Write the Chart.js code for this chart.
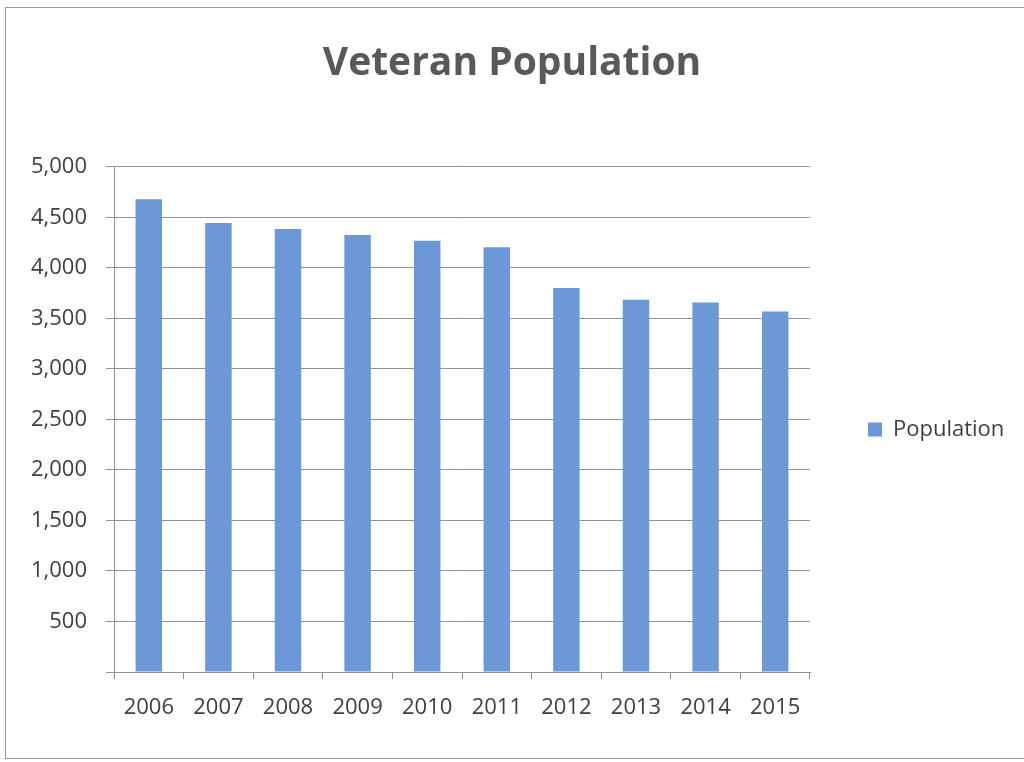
<!DOCTYPE html>
<html>
<head>
<meta charset="utf-8">
<script src="https://cdn.jsdelivr.net/npm/chart.js@4.4.1/dist/chart.umd.min.js"></script>
<style>
  html, body { margin: 0; padding: 0; background: #ffffff; overflow: hidden; }
  #wrap { position: relative; width: 1024px; height: 762px; overflow: hidden; }
  #frame { position: absolute; left: 5px; top: 7px; width: 1100px; height: 752px;
           border: 1px solid #9a9a9a; border-right: none; box-sizing: border-box; }
  canvas { position: absolute; left: 0; top: 0; }
</style>
</head>
<body>
<div id="wrap">
  <div id="frame"></div>
  <canvas id="c" width="1024" height="762"></canvas>
</div>
<script>
const titleText = "Veteran Population";
const seriesLabel = "Population";
const categories = ["2006", "2007", "2008", "2009", "2010", "2011", "2012", "2013", "2014", "2015"];
const populationValues = [4680, 4445, 4385, 4325, 4268, 4205, 3800, 3685, 3658, 3568];
const yTickMin = 0;
const yTickMax = 5000;
const yTickStep = 500;

const barColor = "#6d98d8";
const gridColor = "#939393";
const textColor = "#404040";

const legendShift = {
  id: "legendShift",
  beforeLayout(chart) {
    const lg = chart.legend;
    if (lg && !lg._wrapped) {
      const fit = lg.fit;
      lg.fit = function () { fit.call(this); this.width = 214; };
      lg._wrapped = true;
    }
  },
  afterLayout(chart) {
    const lg = chart.legend;
    if (lg) {
      lg.left += 48; lg.right += 48;
      lg.top += 10; lg.bottom += 10;
    }
  }
};

new Chart(document.getElementById("c"), {
  type: "bar",
  data: {
    labels: categories,
    datasets: [{
      label: seriesLabel,
      data: populationValues,
      backgroundColor: barColor,
      borderWidth: 0,
      categoryPercentage: 1.0,
      barPercentage: 0.38
    }]
  },
  options: {
    responsive: false,
    animation: false,
    devicePixelRatio: 1,
    layout: { padding: { top: 8, left: 0, right: 0, bottom: 0 } },
    plugins: {
      title: {
        display: true,
        text: titleText,
        color: "#595959",
        font: { family: "'Open Sans', sans-serif", size: 39, weight: "bold" },
        padding: { top: 32, bottom: 80 }
      },
      legend: {
        display: true,
        position: "right",
        fullSize: false,
        labels: {
          color: textColor,
          font: { family: "'Open Sans', sans-serif", size: 22 },
          boxWidth: 14,
          boxHeight: 14,
          padding: 10
        }
      },
      tooltip: { enabled: false }
    },
    scales: {
      x: {
        offset: true,
        grid: { display: true, drawOnChartArea: false, drawTicks: true, tickLength: 7, color: gridColor, offset: true },
        border: { display: true, color: gridColor, width: 1 },
        ticks: {
          color: textColor,
          font: { family: "'Open Sans', sans-serif", size: 22 },
          padding: 16,
          maxRotation: 0,
          autoSkip: false
        },
        afterFit(s) { s.height = 90; }
      },
      y: {
        min: yTickMin,
        max: yTickMax,
        grid: { color: gridColor, lineWidth: 1, tickLength: 8, drawTicks: true },
        border: { display: true, color: gridColor, width: 1 },
        ticks: {
          stepSize: yTickStep,
          color: textColor,
          font: { family: "'Open Sans', sans-serif", size: 22 },
          padding: 19,
          callback: (v) => v === 0 ? "" : v.toLocaleString("en-US")
        },
        afterFit(s) { s.width = 114; }
      }
    }
  },
  plugins: [legendShift]
});
</script>
</body>
</html>
